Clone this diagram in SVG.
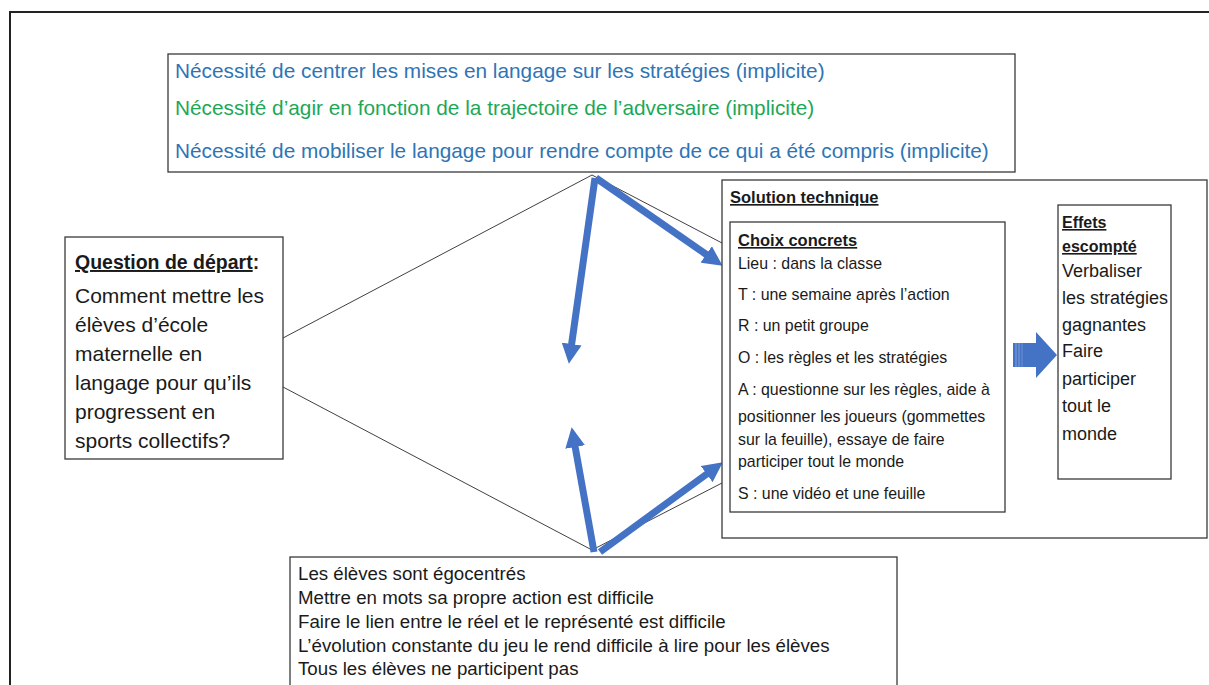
<svg xmlns="http://www.w3.org/2000/svg" width="1209" height="685" viewBox="0 0 1209 685">
<defs>
<style>
.box{fill:#fff;stroke:#3a3a3a;stroke-width:1.3}
.t{font-family:"Liberation Sans",Arial,sans-serif;fill:#1a1a1a}
.top{font-size:20.8px}
.blue{fill:#2E75B6}
.green{fill:#1EA757}
.q{font-size:21px}
.qh{font-size:19.5px}
.s{font-size:15.9px}
.sh{font-size:16.5px}
.e{font-size:18px}
.eh{font-size:16px}
.b{font-size:18.7px}
.bold{font-weight:bold}
.u{text-decoration:underline}
.thin{fill:none;stroke:#404040;stroke-width:1}
.arr{fill:none;stroke:#4472C4;stroke-width:7}
</style>
<marker id="ah" markerUnits="userSpaceOnUse" markerWidth="22" markerHeight="20" refX="1" refY="10" orient="auto">
<path d="M0,0 L20,10 L0,20 z" fill="#4472C4"/>
</marker>
</defs>
<rect width="1209" height="685" fill="#fff"/>
<rect x="10" y="12" width="1220" height="700" fill="none" stroke="#222" stroke-width="2"/>

<g id="connectors">
<polyline class="thin" points="283,338 592,175 722,243"/>
<polyline class="thin" points="283,387 592,550 722,483"/>
<line class="arr" x1="595" y1="178" x2="571.5" y2="345" marker-end="url(#ah)"/>
<line class="arr" x1="596" y1="178" x2="707" y2="255" marker-end="url(#ah)"/>
<line class="arr" x1="594" y1="552" x2="575" y2="446" marker-end="url(#ah)"/>
<line class="arr" x1="600" y1="552" x2="707.5" y2="473.5" marker-end="url(#ah)"/>
</g>

<g id="top-box">
<rect class="box" x="168" y="54" width="847" height="118"/>
<text class="t top blue" x="175" y="78">Nécessité de centrer les mises en langage sur les stratégies (implicite)</text>
<text class="t top green" x="175" y="115">Nécessité d’agir en fonction de la trajectoire de l’adversaire (implicite)</text>
<text class="t top blue" x="175" y="158">Nécessité de mobiliser le langage pour rendre compte de ce qui a été compris (implicite)</text>
</g>

<g id="question">
<rect class="box" x="65" y="237" width="218" height="222"/>
<text class="t qh" x="75" y="269"><tspan class="bold u">Question de départ</tspan><tspan class="bold">:</tspan></text>
<text class="t q" x="75" y="303">Comment mettre les</text>
<text class="t q" x="75" y="332">élèves d’école</text>
<text class="t q" x="75" y="361">maternelle en</text>
<text class="t q" x="75" y="390">langage pour qu’ils</text>
<text class="t q" x="75" y="419">progressent en</text>
<text class="t q" x="75" y="448">sports collectifs?</text>
</g>

<g id="solution">
<rect class="box" x="722" y="180" width="485" height="358"/>
<text class="t sh bold u" x="730" y="203">Solution  technique</text>
</g>

<g id="choix">
<rect class="box" x="730" y="222" width="275" height="290"/>
<text class="t sh bold u" x="738" y="246">Choix concrets</text>
<text class="t s" x="738" y="269">Lieu : dans la classe</text>
<text class="t s" x="738" y="300">T : une semaine après l’action</text>
<text class="t s" x="738" y="331">R : un petit groupe</text>
<text class="t s" x="738" y="363">O : les règles et les stratégies</text>
<text class="t s" x="738" y="395">A : questionne sur les règles, aide à</text>
<text class="t s" x="738" y="422">positionner les joueurs (gommettes</text>
<text class="t s" x="738" y="445">sur la feuille), essaye de faire</text>
<text class="t s" x="738" y="467">participer tout le monde</text>
<text class="t s" x="738" y="499">S : une vidéo et une feuille</text>
</g>

<g id="block-arrow">
<polygon points="1013,343 1036,343 1036,332 1057,355 1036,378 1036,367 1013,367" fill="#4472C4"/>
<line x1="1016" y1="343" x2="1016" y2="367" stroke="#7FA0DA" stroke-width="1"/>
<line x1="1019" y1="343" x2="1019" y2="367" stroke="#7FA0DA" stroke-width="1"/>
<line x1="1022" y1="343" x2="1022" y2="367" stroke="#6A90D2" stroke-width="1"/>
</g>

<g id="effets">
<rect class="box" x="1058" y="205" width="113" height="274"/>
<text class="t eh bold u" x="1062" y="228">Effets</text>
<text class="t eh bold u" x="1062" y="252">escompté</text>
<text class="t e" x="1062" y="277"> Verbaliser</text>
<text class="t e" x="1062" y="304">les stratégies</text>
<text class="t e" x="1062" y="331">gagnantes</text>
<text class="t e" x="1062" y="357">Faire</text>
<text class="t e" x="1062" y="385">participer</text>
<text class="t e" x="1062" y="412">tout le</text>
<text class="t e" x="1062" y="440">monde</text>
</g>

<g id="constraints">
<rect class="box" x="290" y="557" width="607" height="140"/>
<text class="t b" x="298" y="580">Les élèves sont égocentrés</text>
<text class="t b" x="298" y="604">Mettre en mots sa propre action est difficile</text>
<text class="t b" x="298" y="628">Faire le lien entre le réel et le représenté est difficile</text>
<text class="t b" x="298" y="652">L’évolution constante du jeu le rend difficile à lire pour les élèves</text>
<text class="t b" x="298" y="675">Tous les élèves ne participent pas</text>
</g>
</svg>
